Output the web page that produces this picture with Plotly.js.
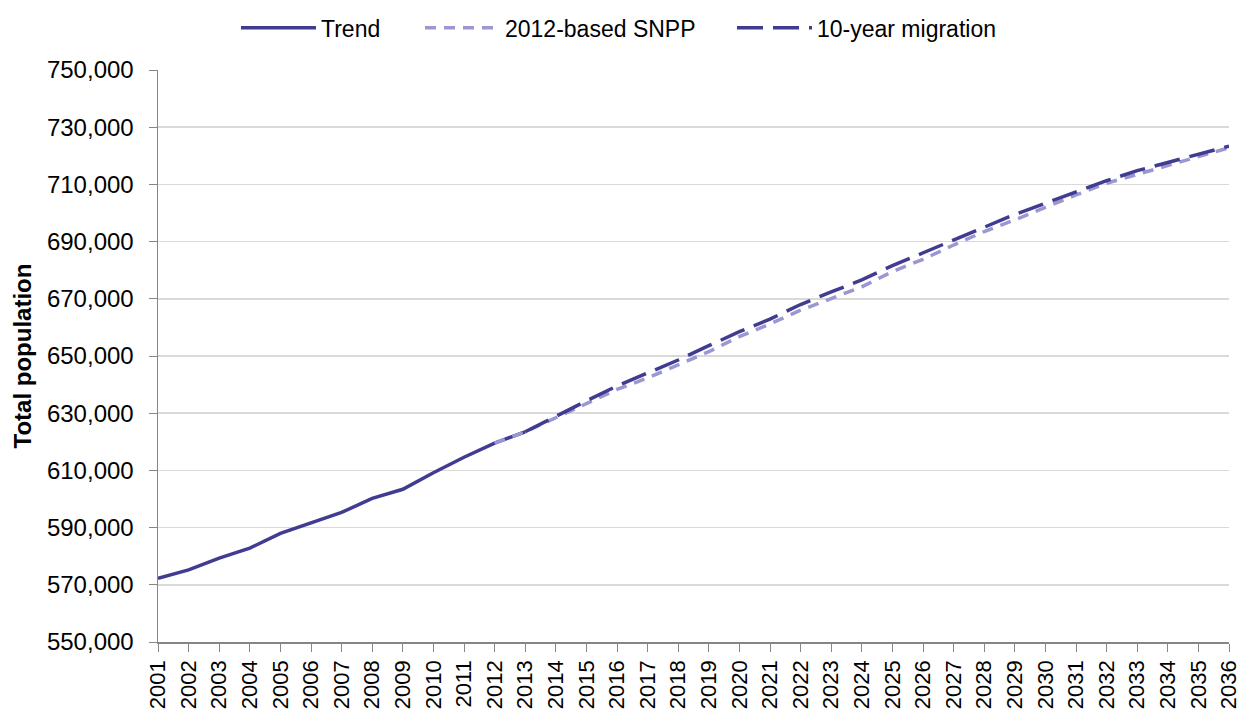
<!DOCTYPE html>
<html>
<head>
<meta charset="utf-8">
<script src="https://cdn.plot.ly/plotly-3.0.1.min.js"></script>
<style>html,body{margin:0;padding:0;background:#fff;}#chart{width:1242px;height:712px;}</style>
</head>
<body>
<div id="chart"></div>
<script>
const trendYears = [2001,2002,2003,2004,2005,2006,2007,2008,2009,2010,2011,2012,2013];
const trendValues = [572300,575200,579300,582800,588000,591700,595300,600200,603400,609200,614600,619500,623500];

const snppYears = [2012,2013,2014,2015,2016,2017,2018,2019,2020,2021,2022,2023,2024,2025,2026,2027,2028,2029,2030,2031,2032,2033,2034,2035,2036];
const snppValues = [619500,623500,628400,633400,638300,642300,646900,651500,656800,661200,666000,670200,674200,679500,683800,688800,693500,697600,702000,706300,710400,713600,716800,719700,722800];

const migYears = [2013,2014,2015,2016,2017,2018,2019,2020,2021,2022,2023,2024,2025,2026,2027,2028,2029,2030,2031,2032,2033,2034,2035,2036];
const migValues = [623500,629000,634300,639500,644000,648600,653600,658500,662900,668000,672400,676600,681600,686100,690800,695200,699500,703400,707500,711300,714800,717700,720500,723400];

const seriesNames = ["Trend", "2012-based SNPP", "10-year migration"];
const xTickYears = [];
for (let y = 2001; y <= 2036; y++) xTickYears.push(y);

const dark = "#403C91";
const light = "#9A97D1";
const fontFam = "Liberation Sans, Arial, sans-serif";

const traces = [
  {x: trendYears, y: trendValues, name: seriesNames[0], legend: "legend", mode: "lines", line: {color: dark, width: 3.5}},
  {x: snppYears, y: snppValues, name: seriesNames[1], legend: "legend2", mode: "lines", line: {color: light, width: 3.5, dash: "11px,8px"}},
  {x: migYears, y: migValues, name: seriesNames[2], legend: "legend3", mode: "lines", line: {color: dark, width: 3.5, dash: "26px,10px"}}
];

function legendAt(px) {
  return {orientation: "h", x: px / 1242, xanchor: "left", xref: "container", y: 0.991, yanchor: "top", yref: "container",
          font: {family: fontFam, size: 23, color: "#000"}, itemwidth: 75, bgcolor: "rgba(0,0,0,0)"};
}

const layout = {
  width: 1242, height: 712,
  margin: {l: 158, r: 13, t: 70, b: 70},
  paper_bgcolor: "#fff", plot_bgcolor: "#fff",
  font: {family: fontFam, size: 24, color: "#000"},
  showlegend: true,
  legend: legendAt(236),
  legend2: legendAt(420),
  legend3: legendAt(732),
  xaxis: {
    range: [2001, 2036], tickmode: "array", tickvals: xTickYears, ticktext: xTickYears.map(String),
    tickangle: -90, ticks: "outside", ticklen: 8, tickcolor: "#868686", tickwidth: 1,
    showline: true, linecolor: "#868686", linewidth: 1.5, showgrid: false, zeroline: false,
    tickfont: {family: fontFam, size: 22, color: "#000"}
  },
  yaxis: {
    range: [550000, 750000], dtick: 20000, tick0: 550000, tickformat: ",",
    ticks: "outside", ticklen: 8, tickcolor: "#868686", ticklabelstandoff: 10,
    showline: true, linecolor: "#868686", linewidth: 1.5,
    showgrid: true, gridcolor: "#D9D9D9", gridwidth: 1.5, zeroline: false,
    tickfont: {family: fontFam, size: 24, color: "#000"},
    title: {text: "<b>Total population</b>", font: {family: fontFam, size: 24, color: "#000"}, standoff: 8}
  }
};

Plotly.newPlot("chart", traces, layout, {displayModeBar: false, staticPlot: true});
</script>
</body>
</html>
